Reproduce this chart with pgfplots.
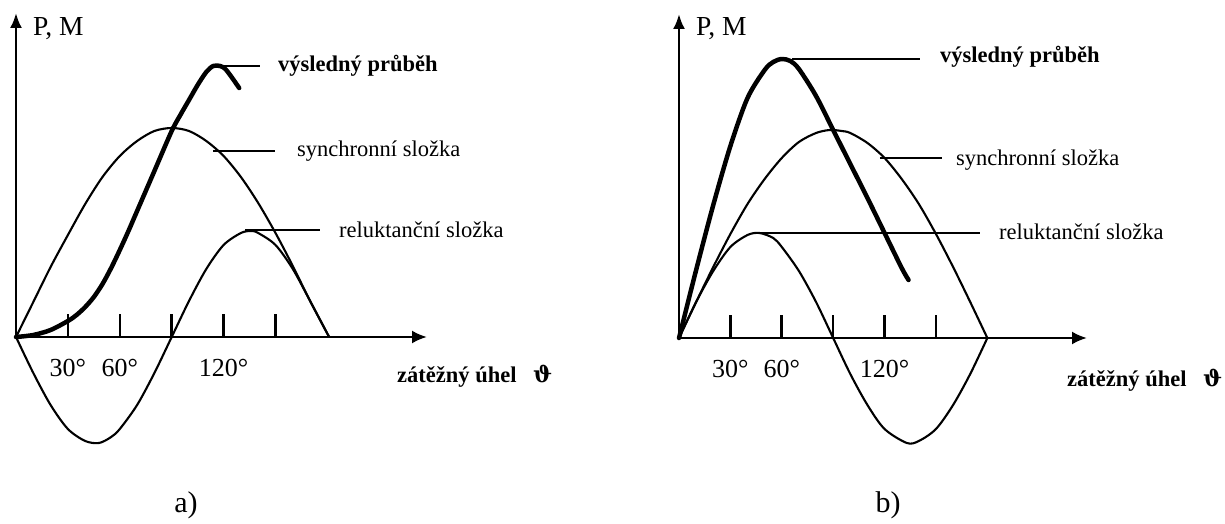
\documentclass[border=0pt]{standalone}
\usepackage{fontspec}
\setmainfont{Liberation Serif}
\newfontfamily\symfont{DejaVu Serif}
\usepackage{pgfplots}
\pgfplotsset{compat=1.18}
\usetikzlibrary{arrows.meta}

\newcommand\lbl{\fontsize{22.5}{27}\selectfont}
\newcommand\velky{\fontsize{26}{31}\selectfont}
\newcommand\osa{\fontsize{27.5}{33}\selectfont}
\newcommand\pismeno{\fontsize{30}{36}\selectfont}

\tikzset{vodic/.style={line width=2.5pt, black}}
\pgfplotsset{
  tenka/.style={line width=2.1pt, black, smooth, line join=round},
  tlusta/.style={line width=4.5pt, black, smooth, line join=round, line cap=round},
  diagram/.style={
    axis lines=left,
    enlargelimits=false,
    clip=false,
    xmin=0, ymin=0,
    y=1pt,
    ytick=\empty,
    xtick={30,60,90,120,150},
    xticklabels={30°,60°,{},120°,{}},
    xtick align=inside,
    major tick length=23pt,
    every tick/.style={black, line width=2.6pt},
    xticklabel style={anchor=base, yshift=-40pt, font=\velky, inner sep=0pt},
    every outer x axis line/.append style={line width=2.6pt, -{Latex[length=15pt,width=13pt]}},
    every outer y axis line/.append style={line width=2.6pt, -{Latex[length=15pt,width=12pt]}},
  },
}

\begin{document}
\begin{tikzpicture}
\useasboundingbox (0,0) rectangle (1225pt,524pt);

% ---------- a) ----------
\begin{axis}[diagram, at={(16pt,187pt)}, anchor=south west,
  x=1.73pt, xmax=237.6, ymax=324]
  % synchronni slozka
  \addplot[tenka] coordinates {
    (0,0) (10,35) (20,70) (30,102) (40,133) (50,160) (60,181) (70,196)
    (80,206) (90,209) (100,206) (110,196) (120,181) (130,160) (140,134)
    (150,104) (160,71) (170,36) (181,0)};
  % reluktancni slozka
  \addplot[tenka] coordinates {
    (0,0) (10,-36) (20,-68) (30,-92) (40,-104) (48,-106) (55,-100) (60,-92)
    (70,-68) (80,-36) (90,0) (100,36) (110,68) (120,92) (130,104) (136,106)
    (140,104) (150,92) (160,68) (170,36) (181,0)};
  % vysledny prubeh
  \addplot[tlusta] coordinates {
    (0,0) (10,2) (20,7) (30,16) (35,22) (40,30) (45,40) (50,53) (55,69)
    (60,87) (65,106) (70,126) (80,166) (90,206) (95,222) (100,237)
    (105,252) (110,265) (114,271) (118,271) (121,268) (125,259) (129,249)};
  \draw[vodic] (axis cs:113.9,271) -- (axis cs:141,271);
  \draw[vodic] (axis cs:113.9,186) -- (axis cs:149.7,186);
  \draw[vodic] (axis cs:132.4,107) -- (axis cs:175.7,107);
\end{axis}

% ---------- b) ----------
\begin{axis}[diagram, at={(679pt,186pt)}, anchor=south west,
  x=1.713pt, xmax=238.2, ymax=324]
  % synchronni slozka
  \addplot[tenka] coordinates {
    (0,0) (10,36) (20,71) (30,104) (40,134) (50,159) (60,180) (70,196)
    (80,205) (88,208) (95,207) (100,205) (110,195) (120,180) (130,159)
    (140,134) (150,104) (160,71) (170,36) (180,0)};
  % reluktancni slozka
  \addplot[tenka] coordinates {
    (0,0) (10,36) (20,67) (30,91) (40,103) (47,105) (55,100) (60,91)
    (70,67) (80,36) (90,0) (100,-36) (110,-67) (120,-91) (133,-105)
    (140,-103) (150,-91) (160,-67) (170,-36) (180,0)};
  % vysledny prubeh
  \addplot[tlusta] coordinates {
    (0,0) (10,68) (20,133) (30,192) (40,240) (50,268) (55,276) (60,279)
    (65,277) (70,269) (80,242) (90,208) (100,174) (110,140) (120,105)
    (130,70) (134,58)};
  \draw[vodic] (axis cs:66,279) -- (axis cs:140.7,279);
  \draw[vodic] (axis cs:117.3,180) -- (axis cs:153.5,180);
  \draw[vodic] (axis cs:43.2,105) -- (axis cs:175.7,105);
\end{axis}

% ---------- popisky ----------
\node[anchor=base west, inner sep=0pt, font=\osa] at (33pt,488pt) {P, M};
\node[anchor=base west, inner sep=0pt, font=\lbl\bfseries] at (278pt,452pt) {výsledný průběh};
\node[anchor=base west, inner sep=0pt, font=\lbl] at (297pt,367pt) {synchronní složka};
\node[anchor=base west, inner sep=0pt, font=\lbl] at (339pt,286pt) {reluktanční složka};
\node[anchor=base west, inner sep=0pt, font=\lbl\bfseries] at (397pt,141pt) {zátěžný úhel};
\node[anchor=base west, inner sep=0pt, font=\lbl\symfont\bfseries] at (533pt,141pt) {ϑ};
\node[anchor=base, inner sep=0pt, font=\pismeno] at (186pt,11pt) {a)};

\node[anchor=base west, inner sep=0pt, font=\osa] at (696pt,488pt) {P, M};
\node[anchor=base west, inner sep=0pt, font=\lbl\bfseries] at (940pt,461pt) {výsledný průběh};
\node[anchor=base west, inner sep=0pt, font=\lbl] at (956pt,358pt) {synchronní složka};
\node[anchor=base west, inner sep=0pt, font=\lbl] at (999pt,284pt) {reluktanční složka};
\node[anchor=base west, inner sep=0pt, font=\lbl\bfseries] at (1067pt,137pt) {zátěžný úhel};
\node[anchor=base west, inner sep=0pt, font=\lbl\symfont\bfseries] at (1203pt,137pt) {ϑ};
\node[anchor=base, inner sep=0pt, font=\pismeno] at (888pt,11pt) {b)};
\end{tikzpicture}
\end{document}
